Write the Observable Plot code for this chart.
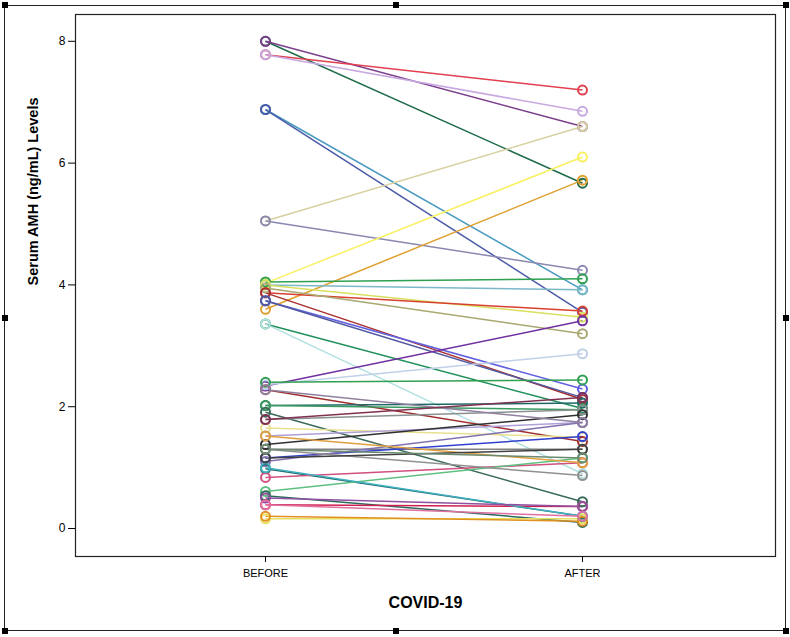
<!DOCTYPE html>
<html>
<head>
<meta charset="utf-8">
<script src="https://cdn.jsdelivr.net/npm/d3@7"></script>
<script src="https://cdn.jsdelivr.net/npm/@observablehq/plot@0.6"></script>
<style>
  html, body { margin: 0; padding: 0; background: #fff; }
  #wrap { position: relative; width: 790px; height: 637px; overflow: hidden; }
  #outer { position: absolute; left: 4px; top: 5px; width: 782px; height: 626px; border: 1.5px solid #222; box-sizing: border-box; pointer-events: none; }
  .h { position: absolute; width: 6px; height: 6px; background: #000; }
  svg { position: absolute; left: 0; top: 0; }
</style>
</head>
<body>
<div id="wrap"></div>
<script>
// Paired serum AMH levels (ng/mL), before and after COVID-19
const phases = ["BEFORE", "AFTER"];
const before = [8.00, 8.00, 7.78, 7.78, 6.88, 6.88, 5.05, 5.05, 4.03, 3.60,
  4.05, 4.00, 4.00, 3.87, 3.95, 3.87, 3.74, 3.74, 3.36, 3.36,
  2.34, 2.36, 2.40, 2.28, 2.02, 2.02, 1.91, 1.79, 1.65, 1.52,
  1.38, 1.30, 1.16, 1.10, 0.98, 0.84, 0.61, 0.54, 0.39, 0.16,
  0.20, 1.52, 1.00, 1.30, 2.28, 1.16, 0.50, 1.79, 0.39, 1.30];
const after = [5.67, 6.60, 7.20, 6.85, 3.92, 3.55, 6.60, 4.24, 6.10, 5.72,
  4.10, 3.92, 3.47, 3.57, 3.20, 2.12, 2.29, 2.15, 1.97, 0.90,
  3.41, 2.87, 2.44, 1.43, 2.06, 1.95, 0.44, 1.95, 1.50, 1.74,
  1.87, 1.30, 1.51, 1.74, 0.20, 1.08, 1.16, 0.10, 0.36, 0.16,
  0.12, 1.08, 0.20, 0.87, 1.74, 1.30, 0.36, 2.15, 0.20, 1.16];
const colors = ["#1e6b4a", "#7b3f8c", "#e04050", "#c8a8e0", "#4a9ac0", "#4a5aa8", "#d8d0a0", "#8a88b0", "#f8f060", "#e0a030",
  "#2ea050", "#7ab8c8", "#d8e060", "#d84030", "#a8a870", "#a83030", "#6060e0", "#5058a0", "#20905a", "#b0e0e0",
  "#7030a0", "#c0d0e8", "#30a050", "#a03030", "#206868", "#3a9a60", "#3a6a5a", "#8a9090", "#e8e090", "#b0a0d8",
  "#303030", "#808080", "#3040d0", "#8070b0", "#206868", "#d05080", "#60c080", "#2a6a5a", "#d02050", "#e8e060",
  "#e09020", "#e0a040", "#40b0c0", "#909090", "#9080a0", "#404040", "#9050a0", "#803050", "#e070a0", "#6a8a70"];
const yTicks = [0, 2, 4, 6, 8];

const pairs = before.map((b, i) => ({before: b, after: after[i], color: colors[i]}));
const dots = pairs.flatMap(d => [
  {phase: phases[0], value: d.before, color: d.color},
  {phase: phases[1], value: d.after, color: d.color}
]);

const font = "'Liberation Sans', Arial, sans-serif";
const chart = Plot.plot({
  width: 790,
  height: 637,
  marginLeft: 75,
  marginRight: 15,
  marginTop: 14,
  marginBottom: 81,
  style: {fontFamily: font, background: "transparent", overflow: "visible"},
  x: {type: "point", domain: phases, range: [265, 582], padding: 0},
  y: {domain: [-0.459, 8.44]},
  color: {type: "identity"},
  marks: [
    Plot.link(pairs, {x1: () => phases[0], y1: "before", x2: () => phases[1], y2: "after",
      stroke: "color", strokeWidth: 1.5}),
    Plot.dot(dots, {x: "phase", y: "value", stroke: "color", r: 4.5, strokeWidth: 2, fill: "none"}),
    Plot.frame({stroke: "#222", strokeWidth: 1.2}),
    Plot.axisY({ticks: yTicks, tickSize: 7, tickPadding: 3, fontSize: 12, label: null, tickFormat: d3.format("d")}),
    Plot.axisX({tickSize: 6, tickPadding: 7, fontSize: 11, label: null,
      fontFamily: "'Liberation Sans Narrow', 'Liberation Sans', Arial, sans-serif"}),
    Plot.text(["COVID-19"], {frameAnchor: "bottom", dy: 40, fontSize: 16, fontWeight: "bold", lineAnchor: "top"}),
    Plot.text(["Serum AMH (ng/mL) Levels"], {frameAnchor: "left", dx: -42, rotate: -90, fontSize: 14.5, fontWeight: "bold"})
  ]
});

const wrap = document.getElementById("wrap");
wrap.appendChild(chart);
const outer = document.createElement("div");
outer.id = "outer";
wrap.appendChild(outer);
[[2, 2], [393, 2], [783, 2], [2, 315], [783, 315], [2, 628], [393, 628], [783, 628]].forEach(([l, t]) => {
  const h = document.createElement("div");
  h.className = "h";
  h.style.left = l + "px";
  h.style.top = t + "px";
  wrap.appendChild(h);
});
</script>
</body>
</html>
